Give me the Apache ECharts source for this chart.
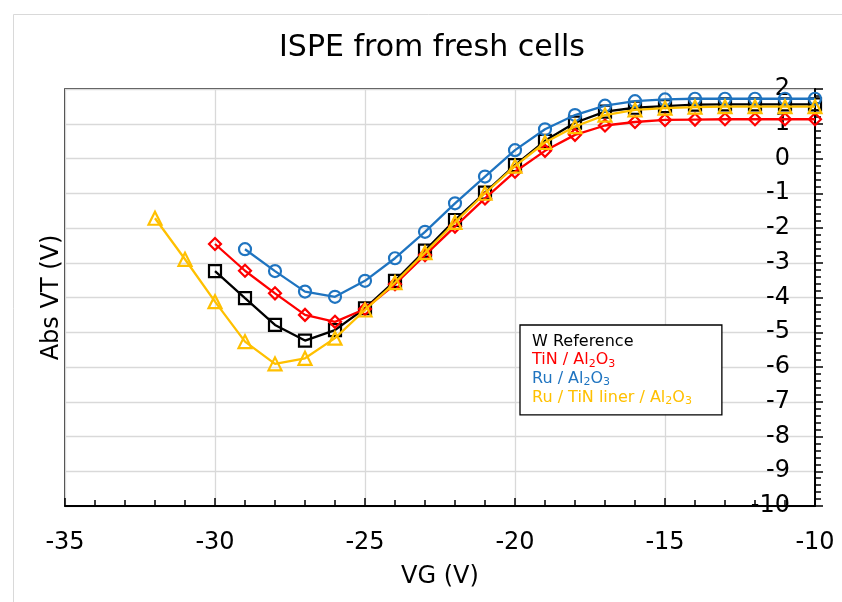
<!DOCTYPE html>
<html>
<head>
<meta charset="utf-8">
<script src="https://cdn.jsdelivr.net/npm/echarts@6/dist/echarts.min.js"></script>
<style>
html,body{margin:0;padding:0;background:#fff;}
#chart{width:842px;height:602px;}
</style>
</head>
<body>
<div id="chart"></div>
<script>
// ---- data ----
const seriesNames = ['W Reference', 'TiN / Al2O3', 'Ru / Al2O3', 'Ru / TiN liner / Al2O3'];

const vgW   = [-30,-29,-28,-27,-26,-25,-24,-23,-22,-21,-20,-19,-18,-17,-16,-15,-14,-13,-12,-11,-10];
const vtW   = [-3.24,-4.02,-4.79,-5.24,-4.94,-4.31,-3.52,-2.65,-1.77,-0.98,-0.19,0.51,1.03,1.35,1.46,1.51,1.55,1.56,1.56,1.56,1.56];

const vgTiN = [-30,-29,-28,-27,-26,-25,-24,-23,-22,-21,-20,-19,-18,-17,-16,-15,-14,-13,-12,-11,-10];
const vtTiN = [-2.46,-3.23,-3.88,-4.50,-4.70,-4.33,-3.62,-2.78,-1.96,-1.15,-0.38,0.22,0.68,0.95,1.05,1.11,1.12,1.13,1.13,1.13,1.13];

const vgRu  = [-29,-28,-27,-26,-25,-24,-23,-22,-21,-20,-19,-18,-17,-16,-15,-14,-13,-12,-11,-10];
const vtRu  = [-2.61,-3.24,-3.83,-3.98,-3.52,-2.87,-2.11,-1.29,-0.52,0.24,0.84,1.25,1.52,1.65,1.70,1.72,1.72,1.72,1.72,1.72];

const vgRuTiN = [-32,-31,-30,-29,-28,-27,-26,-25,-24,-23,-22,-21,-20,-19,-18,-17,-16,-15,-14,-13,-12,-11,-10];
const vtRuTiN = [-1.72,-2.90,-4.12,-5.27,-5.91,-5.75,-5.17,-4.36,-3.57,-2.71,-1.84,-1.00,-0.22,0.46,0.92,1.25,1.40,1.45,1.48,1.49,1.49,1.49,1.49];

const xMin = -35, xMax = -10, xStep = 5;
const yMin = -10, yMax = 2, yStep = 1;

// ---- styling ----
const FONT = 'DejaVu Sans';
const colors = ['#000000', '#ff0000', '#1f74c0', '#ffc000'];
const symbols = ['rect', 'diamond', 'circle', 'triangle'];
const richKeys = ['k', 'r', 'b', 'y'];
const vgs = [vgW, vgTiN, vgRu, vgRuTiN];
const vts = [vtW, vtTiN, vtRu, vtRuTiN];

function pairs(xs, ys) { return xs.map((x, i) => [x, ys[i]]); }

const rich = {};
richKeys.forEach((k, i) => {
  rich[k] = { color: colors[i], fontSize: 16, fontFamily: FONT, lineHeight: 18.7 };
  rich[k + 's'] = { color: colors[i], fontSize: 11, fontFamily: FONT, lineHeight: 8, verticalAlign: 'bottom' };
});

const series = seriesNames.map((name, i) => ({
  name: name,
  type: 'line',
  data: pairs(vgs[i], vts[i]),
  symbol: symbols[i],
  symbolSize: symbols[i] === 'triangle' ? 13 : 12,
  showAllSymbol: true,
  lineStyle: { color: colors[i], width: 2.3 },
  itemStyle: { color: 'rgba(255,255,255,0)', borderColor: colors[i], borderWidth: 2.2 },
  emphasis: { disabled: true },
  z: 3 + i
}));

const chart = echarts.init(document.getElementById('chart'), null, { renderer: 'canvas' });
chart.setOption({
  animation: false,
  backgroundColor: '#ffffff',
  title: {
    text: 'ISPE from fresh cells',
    left: 432, top: 33, textAlign: 'center', padding: 0,
    textStyle: { fontFamily: FONT, fontSize: 30, fontWeight: 'normal', color: '#000' }
  },
  graphic: [{
    type: 'rect', silent: true, z: -10,
    shape: { x: 13.5, y: 14.5, width: 900, height: 700 },
    style: { fill: 'none', stroke: '#d9d9d9', lineWidth: 1 }
  }],
  grid: {
    left: 65, right: 27, top: 89, bottom: 96,
    show: true, borderColor: '#000', borderWidth: 1.5, backgroundColor: 'transparent'
  },
  legend: {
    data: seriesNames,
    orient: 'vertical',
    left: 520, top: 325,
    icon: 'none', itemWidth: 0, itemHeight: 0, itemGap: 0,
    padding: [7, 30, 8, 7],
    backgroundColor: '#ffffff', borderColor: '#000', borderWidth: 1.3, borderRadius: 0,
    selectedMode: false,
    textStyle: { fontFamily: FONT, fontSize: 16, lineHeight: 18.7, rich: rich },
    formatter: function (name) {
      const k = richKeys[seriesNames.indexOf(name)];
      return name.split(/(\d)/).filter(s => s.length).map(s =>
        /^\d$/.test(s) ? '{' + k + 's|' + s + '}' : '{' + k + '|' + s + '}'
      ).join('');
    }
  },
  xAxis: {
    type: 'value', min: xMin, max: xMax, interval: xStep,
    name: 'VG (V)', nameLocation: 'middle', nameGap: 59,
    nameTextStyle: { fontFamily: FONT, fontSize: 24, color: '#000' },
    axisLine: { show: true, onZero: false, lineStyle: { color: '#000', width: 2 } },
    axisTick: { show: true, inside: true, length: 8, lineStyle: { color: '#000', width: 1.5 } },
    minorTick: { show: true, splitNumber: 5, length: 6, lineStyle: { color: '#000', width: 1.5 } },
    axisLabel: { fontFamily: FONT, fontSize: 24, color: '#000', margin: 25 },
    splitLine: { show: true, lineStyle: { color: '#d9d9d9', width: 1.3 } }
  },
  yAxis: [{
    type: 'value', min: yMin, max: yMax, interval: yStep, position: 'right',
    axisLine: { show: true, onZero: false, lineStyle: { color: '#000', width: 2 } },
    axisTick: { show: true, inside: false, length: 8, lineStyle: { color: '#000', width: 1.5 } },
    minorTick: { show: true, splitNumber: 5, length: 6, lineStyle: { color: '#000', width: 1.5 } },
    axisLabel: { inside: true, fontFamily: FONT, fontSize: 24, color: '#000', margin: 25 },
    splitLine: { show: true, lineStyle: { color: '#d9d9d9', width: 1.3 } }
  }, {
    type: 'value', min: yMin, max: yMax, interval: yStep, position: 'left',
    name: 'Abs VT (V)', nameLocation: 'middle', nameRotate: 90, nameGap: 1,
    nameTextStyle: { fontFamily: FONT, fontSize: 24, color: '#000' },
    axisLine: { show: false }, axisTick: { show: false },
    axisLabel: { show: false }, splitLine: { show: false }
  }],
  series: series
});
</script>
</body>
</html>
